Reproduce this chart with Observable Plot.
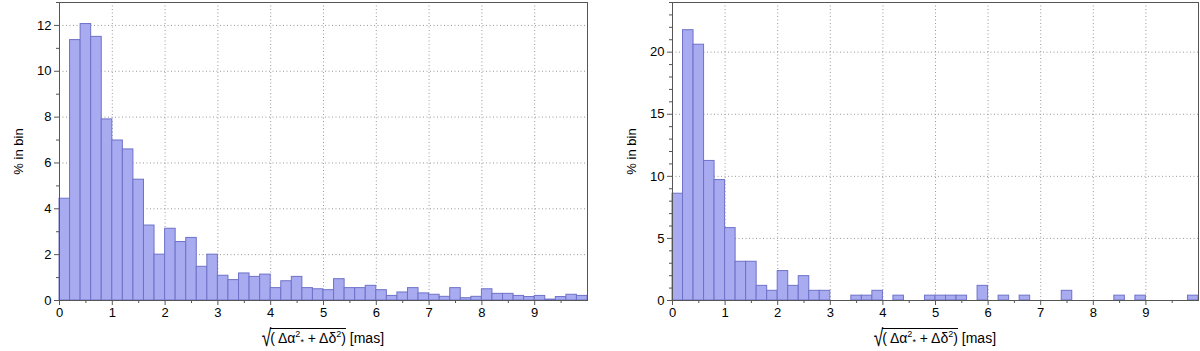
<!DOCTYPE html>
<html>
<head>
<meta charset="utf-8">
<script src="https://cdn.jsdelivr.net/npm/d3@7"></script>
<script src="https://cdn.jsdelivr.net/npm/@observablehq/plot@0.6"></script>
<style>
  body { margin: 0; background: #fff; font-family: "Liberation Sans", Arial, sans-serif; }
  #wrap { position: relative; width: 1200px; height: 351px; overflow: hidden; }
  .panel { position: absolute; top: 0; }
  .panel svg text { font-size: 13px !important; font-family: "Liberation Sans", Arial, sans-serif !important; }
  .xlabel { position: absolute; top: 326px; font-size: 14px; white-space: nowrap; transform: translateX(-50%); color: #000; line-height: 1; }
  .rad { display: inline-block; font-size: 24px; line-height: 1; vertical-align: -3px; margin-right: -3px; transform: scaleX(0.72); }
  .vinc { display: inline-block; border-top: 1px solid #000; padding-top: 2px; }
  sup.s { font-size: 9px; vertical-align: 6px; line-height: 0; }
  sub.s { font-size: 9px; vertical-align: -2px; line-height: 0; }
</style>
</head>
<body>
<div id="wrap"></div>
<script>
// ---- data ----
const binWidth = 0.2;
const binCount = 50;
// % in bin, left panel (bins of 0.2 mas from 0 to 10)
const leftValues = [
  4.44, 11.36, 12.06, 11.5, 7.9, 6.98, 6.59, 5.27, 3.27, 2.0,
  3.13, 2.55, 2.73, 1.47, 2.0, 1.08, 0.89, 1.18, 1.03, 1.13,
  0.54, 0.84, 1.03, 0.54, 0.49, 0.45, 0.93, 0.54, 0.54, 0.64,
  0.45, 0.2, 0.35, 0.54, 0.31, 0.25, 0.16, 0.54, 0.1, 0.16,
  0.49, 0.29, 0.29, 0.2, 0.15, 0.2, 0.04, 0.15, 0.25, 0.2
];
// % in bin, right panel
const rightValues = [
  8.6, 21.77, 20.6, 11.24, 9.7, 5.83, 3.12, 3.12, 1.18, 0.78,
  2.37, 1.18, 1.96, 0.78, 0.78, 0, 0, 0.39, 0.39, 0.78,
  0, 0.39, 0, 0, 0.39, 0.39, 0.39, 0.39, 0, 1.18,
  0, 0.39, 0, 0.39, 0, 0, 0, 0.78, 0, 0,
  0, 0, 0.39, 0, 0.39, 0, 0, 0, 0, 0.39
];
const xMajorTicks = [0, 1, 2, 3, 4, 5, 6, 7, 8, 9];
const xMinorTicks = [0.5, 1.5, 2.5, 3.5, 4.5, 5.5, 6.5, 7.5, 8.5, 9.5];
const leftYMajor = [0, 2, 4, 6, 8, 10, 12];
const leftYMinor = [1, 3, 5, 7, 9, 11, 13];
const rightYMajor = [0, 5, 10, 15, 20];
const rightYMinor = [1, 2, 3, 4, 6, 7, 8, 9, 11, 12, 13, 14, 16, 17, 18, 19, 21, 22, 23, 24];
const yLabel = "% in bin";

const fillColor = "#a8abf0";
const strokeColor = "#6e72c8";

function makeRows(values) {
  return values.map((v, i) => ({x1: i * binWidth, x2: (i + 1) * binWidth, v})).filter(d => d.v > 0);
}

function panel(values, yMax, yMajor, yMinor, width, mL, mR) {
  const gridStyle = {stroke: "#999", strokeOpacity: 1, strokeDasharray: "1,2.5"};
  return Plot.plot({
    width, height: 322,
    marginLeft: mL, marginRight: mR, marginTop: 2, marginBottom: 22,
    style: {fontFamily: "'Liberation Sans', Arial, sans-serif", fontSize: "13px", color: "#000", background: "white"},
    x: {domain: [0, 10]},
    y: {domain: [0, yMax]},
    marks: [
      Plot.gridX(xMajorTicks.slice(1), gridStyle),
      Plot.gridY(yMajor.slice(1), gridStyle),
      Plot.rectY(makeRows(values), {x1: "x1", x2: "x2", y: "v", fill: fillColor, stroke: strokeColor, strokeWidth: 1, insetLeft: 0, insetRight: 0}),
      Plot.axisX(xMajorTicks, {tickSize: 5, tickPadding: 2, stroke: "#555", tickFormat: d => String(d), label: null}),
      Plot.axisX(xMinorTicks, {tickSize: 3, stroke: "#555", tickFormat: () => "", label: null}),
      Plot.axisY(yMajor, {tickSize: 5, tickPadding: 3, stroke: "#555", tickFormat: d => String(d), label: yLabel, labelAnchor: "center", labelOffset: 46, labelArrow: "none"}),
      Plot.axisY(yMinor, {tickSize: 3, stroke: "#555", tickFormat: () => "", label: null}),
      Plot.frame({stroke: "#555"})
    ]
  });
}

function xLabel(cx) {
  const d = document.createElement("div");
  d.className = "xlabel";
  d.style.left = cx + "px";
  d.innerHTML = '<span class="rad">√</span><span class="vinc">( Δα<sup class="s">2</sup><sub class="s">*</sub> + Δδ<sup class="s">2</sup>)</span> [mas]';
  return d;
}

const wrap = document.getElementById("wrap");

const p1 = document.createElement("div");
p1.className = "panel"; p1.style.left = "0px";
p1.appendChild(panel(leftValues, 13, leftYMajor, leftYMinor, 600, 59, 13));
wrap.appendChild(p1);
wrap.appendChild(xLabel(322));

const p2 = document.createElement("div");
p2.className = "panel"; p2.style.left = "612px";
p2.appendChild(panel(rightValues, 24, rightYMajor, rightYMinor, 588, 60, 2));
wrap.appendChild(p2);
wrap.appendChild(xLabel(934));
</script>
</body>
</html>
